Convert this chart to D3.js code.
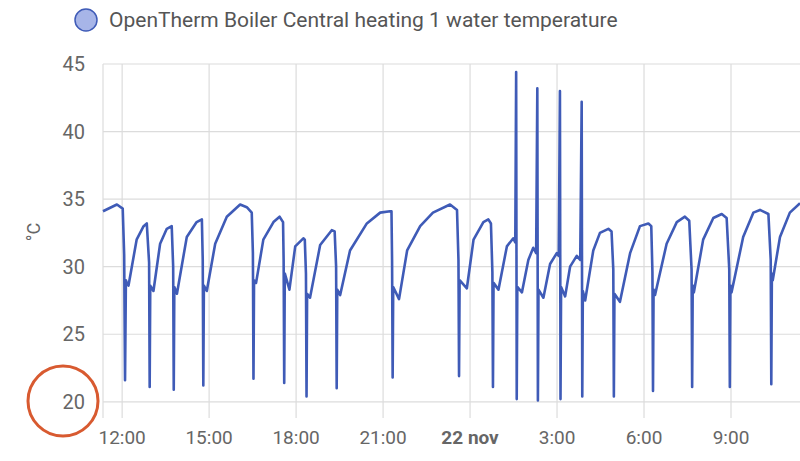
<!DOCTYPE html>
<html>
  <head>
    <script src="https://d3js.org/d3.v7.min.js"></script>
    <style>
      body { margin: 0; background: #fff; }
      text { font-family: Roboto, "Noto Sans", sans-serif; }
    </style>
  </head>
  <body>
    <div id="chart"></div>
    <script>
      // Data: hours since 21 Nov 00:00, and temperature in °C
      const hours = [
        11.34, 11.82, 12.02, 12.07, 12.10, 12.13, 12.16, 12.22, 12.5, 12.74, 12.85,
        12.93, 12.95, 12.97, 13.08, 13.31, 13.54, 13.71,
        13.76, 13.78, 13.80, 13.89, 14.23, 14.57, 14.75,
        14.78, 14.80, 14.82, 14.92, 15.21, 15.61, 16.07, 16.3, 16.47,
        16.51, 16.53, 16.55, 16.62, 16.87, 17.22, 17.43, 17.55,
        17.57, 17.59, 17.61, 17.77, 17.97, 18.25, 18.30,
        18.34, 18.36, 18.38, 18.48, 18.83, 19.23, 19.33,
        19.38, 19.40, 19.42, 19.52, 19.86, 20.44, 20.90, 21.24, 21.29,
        21.31, 21.33, 21.35, 21.55, 21.83, 22.28, 22.72, 23.31, 23.55,
        23.60, 23.62, 23.64, 23.89, 24.12, 24.46, 24.63, 24.72,
        24.77, 24.79, 24.81, 24.98, 25.27, 25.49, 25.56,
        25.59, 25.61, 25.63, 25.79, 26.01, 26.18, 26.28,
        26.32, 26.34, 26.36, 26.53, 26.76, 26.99, 27.06,
        27.10, 27.12, 27.14, 27.28, 27.45, 27.68, 27.80,
        27.85, 27.87, 27.89, 27.97, 28.25, 28.48, 28.77, 28.88,
        28.94, 28.96, 28.98, 29.17, 29.52, 29.86, 30.15, 30.25,
        30.29, 30.31, 30.33, 30.38, 30.78, 31.13, 31.41, 31.56,
        31.64, 31.66, 31.68, 31.72, 32.04, 32.39, 32.68, 32.85,
        32.94, 32.96, 32.98, 33.02, 33.42, 33.77, 34.0, 34.29,
        34.37, 34.39, 34.41, 34.44, 34.69, 35.03, 35.38
      ];
      const temps = [
        34.1, 34.6, 34.3, 30.9, 21.6, 29.0, 28.8, 28.6, 32.0, 33.0, 33.2,
        30.3, 21.1, 28.6, 28.2, 31.7, 32.8, 33.0,
        30.0, 20.9, 28.5, 28.0, 32.2, 33.3, 33.5,
        30.5, 21.2, 28.6, 28.2, 31.7, 33.7, 34.6, 34.4, 34.0,
        31.0, 21.7, 29.0, 28.8, 32.0, 33.3, 33.7, 33.3,
        30.5, 21.4, 29.5, 28.3, 31.5, 32.1, 32.0,
        29.5, 20.4, 28.0, 27.7, 31.6, 32.7, 32.6,
        30.0, 21.0, 28.3, 27.9, 31.2, 33.2, 34.0, 34.1, 34.1,
        30.5, 21.8, 28.5, 27.6, 31.2, 33.0, 34.0, 34.6, 34.2,
        30.5, 21.9, 29.0, 28.4, 32.0, 33.3, 33.5, 33.2,
        29.6, 21.1, 28.8, 28.3, 31.5, 32.1, 31.8,
        44.4, 20.2, 28.5, 28.1, 30.5, 31.4, 31.0,
        43.2, 20.1, 28.3, 27.7, 30.2, 31.0, 30.8,
        43.0, 20.2, 28.5, 27.8, 30.0, 30.8, 30.5,
        42.2, 20.4, 28.2, 27.5, 31.2, 32.5, 32.8, 32.6,
        29.8, 20.4, 28.0, 27.4, 31.0, 33.0, 33.2, 33.0,
        29.6, 20.8, 28.3, 27.9, 31.7, 33.3, 33.7, 33.4,
        29.8, 21.1, 28.6, 28.1, 32.0, 33.6, 33.9, 33.6,
        29.8, 21.1, 28.6, 28.1, 32.2, 34.0, 34.2, 33.9,
        30.5, 21.3, 29.5, 29.0, 32.2, 34.0, 34.7
      ];
      const yTicks = [20, 25, 30, 35, 40, 45];
      const xTickHours = [12, 15, 18, 21, 24, 27, 30, 33];
      const xTickLabels = ["12:00", "15:00", "18:00", "21:00", "22 nov", "3:00", "6:00", "9:00"];
      const seriesName = "OpenTherm Boiler Central heating 1 water temperature";

      const W = 800, H = 461;
      const plot = { left: 103, right: 800, top: 64, bottom: 418 };
      const base = new Date(2023, 10, 21, 0, 0);
      const toDate = h => new Date(base.getTime() + h * 3600000);

      const svg = d3.select("#chart").append("svg")
        .attr("width", W).attr("height", H);

      const x = d3.scaleTime()
        .domain([toDate(11.34), toDate(35.38)])
        .range([plot.left, plot.right]);
      const y = d3.scaleLinear().domain([18.8, 45]).range([plot.bottom, plot.top]);

      // Grid
      svg.append("g").selectAll("line").data(yTicks).join("line")
        .attr("x1", plot.left).attr("x2", plot.right)
        .attr("y1", d => y(d)).attr("y2", d => y(d))
        .attr("stroke", "#dcdcdc").attr("stroke-width", 1.2);
      svg.append("g").selectAll("line").data(xTickHours).join("line")
        .attr("x1", d => x(toDate(d))).attr("x2", d => x(toDate(d)))
        .attr("y1", plot.top).attr("y2", plot.bottom)
        .attr("stroke", "#dcdcdc").attr("stroke-width", 1.2);
      svg.append("line")
        .attr("x1", plot.left).attr("x2", plot.left).attr("y1", plot.top).attr("y2", plot.bottom)
        .attr("stroke", "#dcdcdc").attr("stroke-width", 1.2);

      // Y labels
      svg.append("g").selectAll("text").data(yTicks).join("text")
        .attr("x", 85).attr("y", d => y(d)).attr("dy", "0.35em")
        .attr("text-anchor", "end").attr("fill", "#666").style("font-size", "20px")
        .text(d => d);

      // X labels
      svg.append("g").selectAll("text").data(xTickHours).join("text")
        .attr("x", d => x(toDate(d))).attr("y", 444)
        .attr("text-anchor", "middle").attr("fill", "#666").style("font-size", "19px")
        .style("font-weight", (d, i) => xTickLabels[i] === "22 nov" ? "bold" : "normal")
        .text((d, i) => xTickLabels[i]);

      svg.append("text")
        .attr("transform", "translate(40, 232) rotate(-90)")
        .attr("text-anchor", "middle").attr("fill", "#666").style("font-size", "18px")
        .text("°C");

      // Line
      const data = hours.map((h, i) => ({ t: toDate(h), v: temps[i] }));
      svg.append("path").datum(data)
        .attr("fill", "none").attr("stroke", "#3f5bb7").attr("stroke-width", 2.6)
        .attr("stroke-linejoin", "round")
        .attr("d", d3.line().x(d => x(d.t)).y(d => y(d.v)));

      // Legend
      svg.append("circle").attr("cx", 86).attr("cy", 20).attr("r", 11)
        .attr("fill", "#a7b5e8").attr("stroke", "#3f5bb7").attr("stroke-width", 1.5);
      svg.append("text").attr("x", 109).attr("y", 20).attr("dy", "0.35em")
        .attr("fill", "#555").style("font-size", "21px").text(seriesName);

      // Red circle annotation
      svg.append("ellipse").attr("cx", 63).attr("cy", 401).attr("rx", 35).attr("ry", 35)
        .attr("fill", "none").attr("stroke", "#d85a30").attr("stroke-width", 3);
    </script>
  </body>
</html>
